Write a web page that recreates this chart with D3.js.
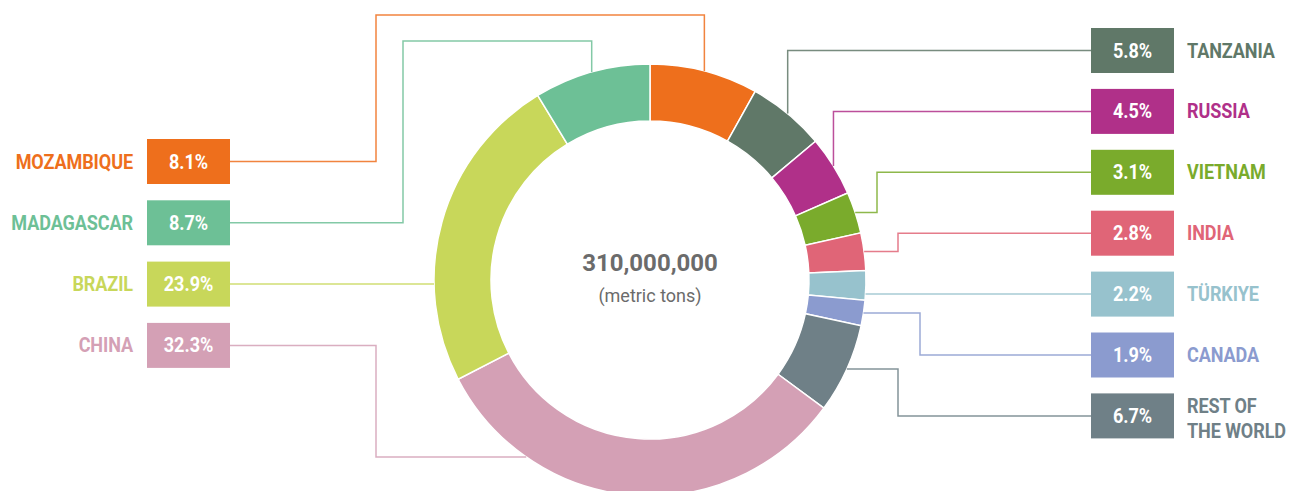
<!DOCTYPE html>
<html>
<head>
<meta charset="utf-8">
<script src="https://cdn.jsdelivr.net/npm/d3@7"></script>
<style>
  body { margin: 0; background: #fff; }
  svg { display: block; font-family: Roboto, "Liberation Sans", sans-serif; }
</style>
</head>
<body>
<svg id="chart" width="1294" height="491"></svg>
<script>
// clockwise from 12 o'clock
var countries = ['MOZAMBIQUE', 'TANZANIA', 'RUSSIA', 'VIETNAM', 'INDIA', 'TÜRKIYE', 'CANADA', 'REST OF THE WORLD', 'CHINA', 'BRAZIL', 'MADAGASCAR'];
var shares = [8.1, 5.8, 4.5, 3.1, 2.8, 2.2, 1.9, 6.7, 32.3, 23.9, 8.7];
var colors = ['#ee6f1c', '#607868', '#b03089', '#7aab2c', '#e06577', '#97c2cd', '#8b9bcf', '#6f8087', '#d4a0b5', '#c8d75a', '#6dc096'];
var leftOrder = ['MOZAMBIQUE', 'MADAGASCAR', 'BRAZIL', 'CHINA'];
var rightOrder = ['TANZANIA', 'RUSSIA', 'VIETNAM', 'INDIA', 'TÜRKIYE', 'CANADA', 'REST OF THE WORLD'];
var totalLabel = '310,000,000';
var unitLabel = '(metric tons)';

// leader line routing (layout only)
var routes = {
  'MOZAMBIQUE': { type: 'over', x: 376, y: 15 },
  'MADAGASCAR': { type: 'over', x: 403, y: 41 },
  'BRAZIL': { type: 'straight' },
  'CHINA': { type: 'under', x: 376, y: 457 },
  'TANZANIA': { type: 'drop' },
  'RUSSIA': { type: 'drop' },
  'VIETNAM': { type: 'side', x: 877 },
  'INDIA': { type: 'side', x: 898 },
  'TÜRKIYE': { type: 'straight' },
  'CANADA': { type: 'side', x: 920 },
  'REST OF THE WORLD': { type: 'side', x: 898 }
};

var cx = 650, cy = 280, outerR = 216, innerR = 159;
var boxW = 83, boxH = 45;
var squeeze = 0.88; // fake condensed face

var svg = d3.select('#chart');

var data = countries.map(function(c, i) {
  return { name: c, value: shares[i], color: colors[i] };
});

var pie = d3.pie().sort(null).value(function(d) { return d.value; });
var arcs = pie(data);
var arc = d3.arc().innerRadius(innerR).outerRadius(outerR);

var ring = svg.append('g').attr('transform', 'translate(' + cx + ',' + cy + ')');
ring.selectAll('path')
  .data(arcs)
  .enter()
  .append('path')
  .attr('d', arc)
  .attr('fill', function(d) { return d.data.color; })
  .attr('stroke', '#fff')
  .attr('stroke-width', 1.5);

var leftY = d3.scaleLinear().domain([0, 1]).range([161.5, 222.8]);
var rightY = d3.scaleLinear().domain([0, 1]).range([50.5, 111.4]);
var leftBoxX = 147, rightBoxX = 1091;

function edgeX(y, sign) {
  var dy = y - cy;
  return cx + sign * Math.sqrt(outerR * outerR - dy * dy);
}

function leaderPath(a, side, by) {
  var r = routes[a.data.name];
  var mid = (a.startAngle + a.endAngle) / 2;
  var px = cx + outerR * Math.sin(mid);
  var py = cy - outerR * Math.cos(mid);
  var p = d3.path();
  if (side === 'left') {
    p.moveTo(leftBoxX + boxW, by);
    if (r.type === 'straight') {
      p.lineTo(edgeX(by, -1), by);
    } else if (r.type === 'over') {
      p.lineTo(r.x, by); p.lineTo(r.x, r.y); p.lineTo(px, r.y); p.lineTo(px, py);
    } else if (r.type === 'under') {
      p.lineTo(r.x, by); p.lineTo(r.x, r.y); p.lineTo(edgeX(r.y, -1), r.y);
    }
  } else {
    p.moveTo(rightBoxX, by);
    if (r.type === 'straight') {
      p.lineTo(edgeX(by, 1), by);
    } else if (r.type === 'drop') {
      p.lineTo(px, by); p.lineTo(px, py);
    } else if (r.type === 'side') {
      p.lineTo(r.x, by); p.lineTo(r.x, py); p.lineTo(px, py);
    }
  }
  return p.toString();
}

var byName = {};
arcs.forEach(function(a) { byName[a.data.name] = a; });

function drawSide(order, side) {
  var yScale = side === 'left' ? leftY : rightY;
  var boxX = side === 'left' ? leftBoxX : rightBoxX;
  var labelX = side === 'left' ? boxX - 14 : boxX + boxW + 13;
  var g = svg.append('g');
  var items = g.selectAll('g.item')
    .data(order.map(function(n) { return byName[n]; }))
    .enter()
    .append('g')
    .attr('class', 'item');

  items.append('path')
    .attr('d', function(d, i) { return leaderPath(d, side, yScale(i)); })
    .attr('fill', 'none')
    .attr('stroke', function(d) { return d.data.color; })
    .attr('stroke-width', 1.5)
    .attr('stroke-opacity', 0.85);

  items.append('rect')
    .attr('x', boxX)
    .attr('y', function(d, i) { return yScale(i) - boxH / 2; })
    .attr('width', boxW)
    .attr('height', boxH)
    .attr('fill', function(d) { return d.data.color; });

  items.append('text')
    .attr('transform', function(d, i) {
      return 'translate(' + (boxX + boxW / 2) + ',' + (yScale(i) + 7) + ') scale(' + squeeze + ',1)';
    })
    .attr('text-anchor', 'middle')
    .attr('fill', '#fff')
    .attr('font-weight', 700)
    .attr('font-size', 20.5)
    .text(function(d) { return d3.format('.1f')(d.data.value) + '%'; });

  var lbl = items.append('text')
    .attr('transform', function(d, i) {
      return 'translate(' + labelX + ',' + (yScale(i) + 7) + ') scale(' + squeeze + ',1)';
    })
    .attr('text-anchor', side === 'left' ? 'end' : 'start')
    .attr('fill', function(d) { return d.data.color; })
    .attr('font-weight', 700)
    .attr('font-size', 20.5)
    .attr('letter-spacing', -0.1);

  lbl.each(function(d) {
    var t = d3.select(this);
    if (d.data.name === 'REST OF THE WORLD') {
      t.append('tspan').attr('x', 0).attr('y', -10).text('REST OF');
      t.append('tspan').attr('x', 0).attr('y', 15).text('THE WORLD');
    } else {
      t.text(d.data.name);
    }
  });
}

drawSide(leftOrder, 'left');
drawSide(rightOrder, 'right');

svg.append('text')
  .attr('x', cx)
  .attr('y', 271)
  .attr('text-anchor', 'middle')
  .attr('fill', '#6b6b6b')
  .attr('font-weight', 700)
  .attr('font-size', 24)
  .text(totalLabel);

svg.append('text')
  .attr('x', cx)
  .attr('y', 302)
  .attr('text-anchor', 'middle')
  .attr('fill', '#6b6b6b')
  .attr('font-size', 18)
  .text(unitLabel);
</script>
</body>
</html>
